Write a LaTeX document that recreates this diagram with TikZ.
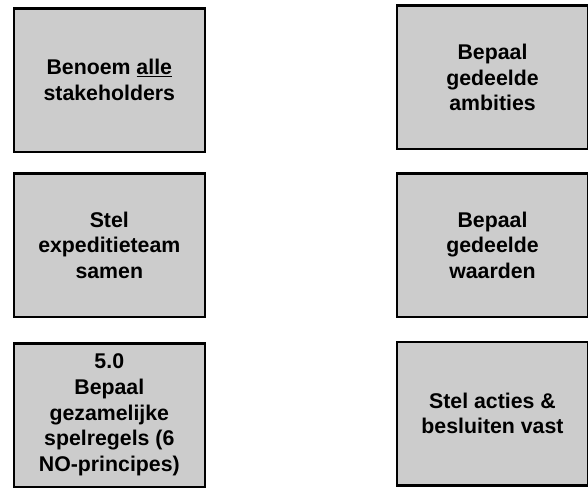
\documentclass[tikz,border=0pt]{standalone}
\usepackage{fontspec}
\setmainfont{Liberation Sans}
\usepackage{tikz}
\usetikzlibrary{positioning}
\definecolor{boxgray}{HTML}{CCCCCC}
\tikzset{stepbox/.style={draw=black, line width=2.5pt, fill=boxgray, minimum width=191pt, minimum height=143.5pt, inner sep=2pt, align=center, font=\fontsize{21.3}{25.7}\selectfont\bfseries}}

\begin{document}
\begin{tikzpicture}[x=1pt, y=-1pt]
	\clip (0,0) rectangle (588,489);
	% left column
	\node[stepbox] (stakeholders) at (109.3,80.2) {Benoem \underline{alle}\\stakeholders};
	\node[stepbox] (team) at (109.3,245.2) {Stel\\expeditieteam\\samen};
	\node[stepbox] (spelregels) at (109.3,415) {5.0\\Bepaal\\gezamelijke\\spelregels (6\\NO-principes)};
	% right column
	\node[stepbox] (ambities) at (492.5,77.5) {Bepaal\\gedeelde\\ambities};
	\node[stepbox] (waarden) at (492.5,245.2) {Bepaal\\gedeelde\\waarden};
	\node[stepbox] (acties) at (492.5,413.5) {Stel acties \&\\besluiten vast};
\end{tikzpicture}
\end{document}
